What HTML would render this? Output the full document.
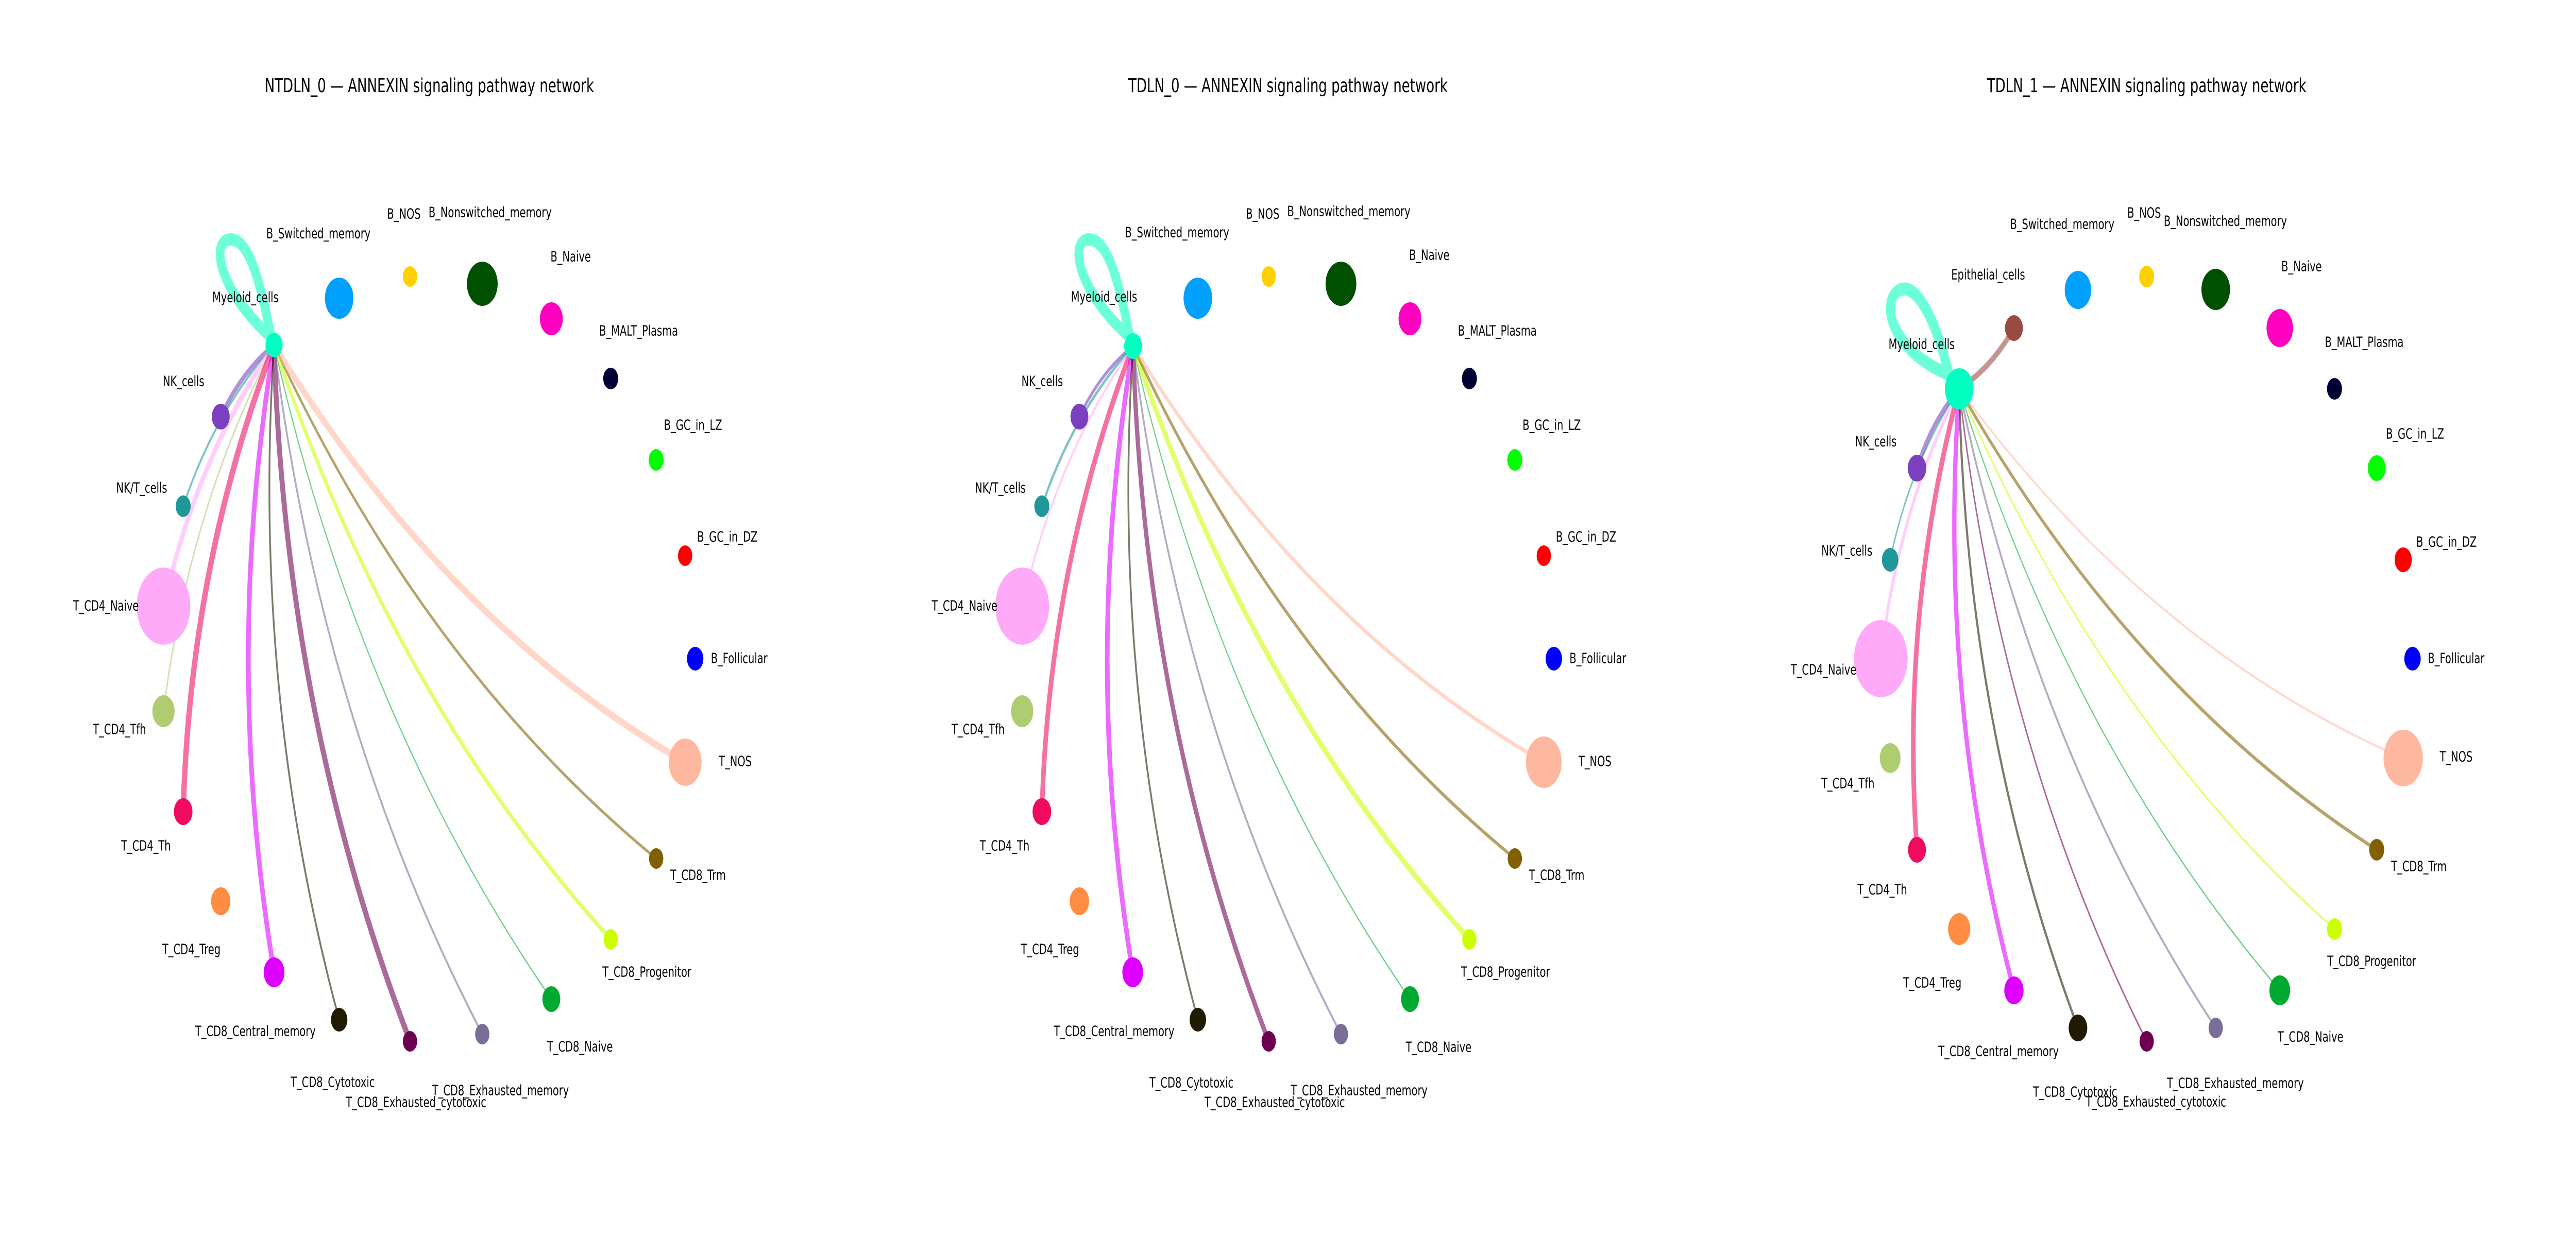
<!DOCTYPE html>
<html><head><meta charset="utf-8"><style>
html,body{margin:0;padding:0;background:#fff;width:100%;height:100%;overflow:hidden;}
svg{display:block;width:100vw;height:100vh;}
text{font-family:"DejaVu Sans","Liberation Sans",sans-serif;fill:#000;}
.t{font-size:37.5px;text-anchor:middle;}
.l{font-size:28px;text-anchor:middle;dominant-baseline:central;}
</style></head><body>
<svg id="s" viewBox="0 0 7200 2400" preserveAspectRatio="none" xmlns="http://www.w3.org/2000/svg">
<rect width="7200" height="2400" fill="#fff"/>
<g id="edges"></g>
<path d="M760 660 C730 560 700 460 640 465 C590 470 610 560 750 650" fill="none" stroke="#00FFC0" stroke-opacity="0.58" stroke-width="24"/>
<path d="M3160 660 C3130 560 3100 460 3040 465 C2990 470 3010 560 3150 650" fill="none" stroke="#00FFC0" stroke-opacity="0.58" stroke-width="24"/>
<path d="M5450 735 C5420 640 5360 540 5305 565 C5255 590 5290 680 5440 725" fill="none" stroke="#00FFC0" stroke-opacity="0.58" stroke-width="25"/>
<g id="nodes"></g>

<text class="t" x="1200" y="179">NTDLN_0 — ANNEXIN signaling pathway network</text>
<text class="t" x="3600" y="179">TDLN_0 — ANNEXIN signaling pathway network</text>
<text class="t" x="6000" y="179">TDLN_1 — ANNEXIN signaling pathway network</text>

<g>
<text class="l" x="890" y="453">B_Switched_memory</text>
<text class="l" x="1129" y="415">B_NOS</text>
<text class="l" x="1370" y="412">B_Nonswitched_memory</text>
<text class="l" x="1595" y="498">B_Naive</text>
<text class="l" x="686" y="577">Myeloid_cells</text>
<text class="l" x="1785" y="642">B_MALT_Plasma</text>
<text class="l" x="513" y="740">NK_cells</text>
<text class="l" x="1937" y="825">B_GC_in_LZ</text>
<text class="l" x="396" y="947">NK/T_cells</text>
<text class="l" x="2033" y="1042">B_GC_in_DZ</text>
<text class="l" x="296" y="1176">T_CD4_Naive</text>
<text class="l" x="2066" y="1278">B_Follicular</text>
<text class="l" x="334" y="1416">T_CD4_Tfh</text>
<text class="l" x="2055" y="1478">T_NOS</text>
<text class="l" x="408" y="1642">T_CD4_Th</text>
<text class="l" x="1951" y="1699">T_CD8_Trm</text>
<text class="l" x="535" y="1843">T_CD4_Treg</text>
<text class="l" x="1808" y="1887">T_CD8_Progenitor</text>
<text class="l" x="714" y="2002">T_CD8_Central_memory</text>
<text class="l" x="1621" y="2032">T_CD8_Naive</text>
<text class="l" x="930" y="2101">T_CD8_Cytotoxic</text>
<text class="l" x="1399" y="2117">T_CD8_Exhausted_memory</text>
<text class="l" x="1163" y="2140">T_CD8_Exhausted_cytotoxic</text>
</g>
<g transform="translate(2400,0)">
<text class="l" x="890" y="451">B_Switched_memory</text>
<text class="l" x="1129" y="415">B_NOS</text>
<text class="l" x="1370" y="410">B_Nonswitched_memory</text>
<text class="l" x="1595" y="495">B_Naive</text>
<text class="l" x="686" y="576">Myeloid_cells</text>
<text class="l" x="1785" y="642">B_MALT_Plasma</text>
<text class="l" x="513" y="740">NK_cells</text>
<text class="l" x="1937" y="825">B_GC_in_LZ</text>
<text class="l" x="396" y="947">NK/T_cells</text>
<text class="l" x="2033" y="1042">B_GC_in_DZ</text>
<text class="l" x="296" y="1176">T_CD4_Naive</text>
<text class="l" x="2066" y="1278">B_Follicular</text>
<text class="l" x="334" y="1416">T_CD4_Tfh</text>
<text class="l" x="2058" y="1478">T_NOS</text>
<text class="l" x="408" y="1642">T_CD4_Th</text>
<text class="l" x="1951" y="1699">T_CD8_Trm</text>
<text class="l" x="535" y="1843">T_CD4_Treg</text>
<text class="l" x="1808" y="1887">T_CD8_Progenitor</text>
<text class="l" x="714" y="2002">T_CD8_Central_memory</text>
<text class="l" x="1621" y="2033">T_CD8_Naive</text>
<text class="l" x="930" y="2102">T_CD8_Cytotoxic</text>
<text class="l" x="1399" y="2117">T_CD8_Exhausted_memory</text>
<text class="l" x="1163" y="2140">T_CD8_Exhausted_cytotoxic</text>
</g>
<g>
<text class="l" x="5764" y="435">B_Switched_memory</text>
<text class="l" x="5993" y="413">B_NOS</text>
<text class="l" x="6220" y="429">B_Nonswitched_memory</text>
<text class="l" x="5557" y="533">Epithelial_cells</text>
<text class="l" x="6433" y="517">B_Naive</text>
<text class="l" x="5371" y="668">Myeloid_cells</text>
<text class="l" x="6608" y="664">B_MALT_Plasma</text>
<text class="l" x="6750" y="842">B_GC_in_LZ</text>
<text class="l" x="5243" y="857">NK_cells</text>
<text class="l" x="6838" y="1052">B_GC_in_DZ</text>
<text class="l" x="5162" y="1069">NK/T_cells</text>
<text class="l" x="6865" y="1278">B_Follicular</text>
<text class="l" x="5097" y="1300">T_CD4_Naive</text>
<text class="l" x="6865" y="1469">T_NOS</text>
<text class="l" x="5165" y="1521">T_CD4_Tfh</text>
<text class="l" x="6761" y="1682">T_CD8_Trm</text>
<text class="l" x="5261" y="1727">T_CD4_Th</text>
<text class="l" x="6629" y="1866">T_CD8_Progenitor</text>
<text class="l" x="5401" y="1908">T_CD4_Treg</text>
<text class="l" x="6458" y="2013">T_CD8_Naive</text>
<text class="l" x="5586" y="2041">T_CD8_Central_memory</text>
<text class="l" x="6248" y="2103">T_CD8_Exhausted_memory</text>
<text class="l" x="5800" y="2120">T_CD8_Cytotoxic</text>
<text class="l" x="6026" y="2139">T_CD8_Exhausted_cytotoxic</text>
</g>
</svg>
<script>
(function(){
var NS="http://www.w3.org/2000/svg";
var C={My:"#00FFC0",Ep:"#9A4A40",BS:"#00A0FF",BN:"#FFD000",BNs:"#005000",BNa:"#FF00C0",BM:"#000033",LZ:"#00FF00",DZ:"#FF0000",BF:"#0000FF",TN:"#FFB8A0",Trm:"#806000",Pr:"#CCFF00",CN:"#00AA30",EM:"#7A6E98",EC:"#6E0050",Cy:"#201A00",CM:"#DD00FF",Tr:"#FF8C40",Th:"#F00A60",Tf:"#B0CC70",CNv:"#FFAAF8",NKT:"#20989A",NK:"#7B40C0"};
var P1={My:[766,670,24],BS:[948,579,40],BN:[1146,537,20],BNs:[1348,551,43],BNa:[1541,619,32],BM:[1707,735,21],LZ:[1834,893,21],DZ:[1915,1079,20],BF:[1943,1279,23],TN:[1915,1480,46],Trm:[1834,1667,20],Pr:[1707,1824,20],CN:[1541,1940,25],EM:[1348,2008,20],EC:[1146,2022,20],Cy:[948,1980,23],CM:[766,1888,29],Tr:[617,1750,27],Th:[512,1576,26],Tf:[457,1381,31],CNv:[457,1177,75],NKT:[512,983,21],NK:[617,809,25]};
var P2={};for(var k in P1){P2[k]=[P1[k][0]+2400,P1[k][1],P1[k][2]];}
P2.My=[3167,672,25];P2.TN=[4315,1480,50];
var P3={My:[5476,755,40],Ep:[5629,637,25],BS:[5808,563,37],BN:[6000,537,21],BNs:[6193,562,40],BNa:[6372,637,37],BM:[6525,755,21],LZ:[6643,909,25],DZ:[6717,1087,24],BF:[6743,1279,23],TN:[6717,1472,55],Trm:[6643,1650,21],Pr:[6525,1804,21],CN:[6372,1923,29],EM:[6193,1996,20],EC:[6000,2022,20],Cy:[5808,1996,26],CM:[5629,1923,27],Tr:[5476,1804,31],Th:[5358,1650,25],Tf:[5283,1472,29],CNv:[5257,1279,75],NKT:[5283,1087,23],NK:[5358,909,26]};
var E1={NK:10,NKT:5,CNv:12,Tf:4,Th:15,CM:13,Cy:5,EC:14,EM:5,CN:3,Pr:9,Trm:6,TN:14};
var E2={NK:7,NKT:6,CNv:5,Th:13,CM:13,Cy:5,EC:12,EM:5,CN:3,Pr:12,Trm:7,TN:8};
var E3={Ep:12,NK:10,NKT:4,CNv:8,Th:13,CM:12,Cy:6,EC:4,EM:5,CN:3,Pr:4,Trm:7,TN:4};
var eg=document.getElementById("edges"),ng=document.getElementById("nodes");
function draw(P,E){
 var s=P.My;
 for(var k in E){var t=P[k];var dx=t[0]-s[0],dy=t[1]-s[1];
  var mx=(s[0]+t[0])/2,my=(s[1]+t[1])/2,r=0.118;
  var cx=mx-r*dy,cy=my+r*dx;
  var p=document.createElementNS(NS,"path");
  p.setAttribute("d","M"+s[0]+" "+s[1]+" Q"+cx+" "+cy+" "+t[0]+" "+t[1]);
  p.setAttribute("fill","none");p.setAttribute("stroke",C[k]);
  p.setAttribute("stroke-opacity","0.58");p.setAttribute("stroke-width",E[k]);
  eg.appendChild(p);}
 for(var k in P){var n=P[k];var c=document.createElementNS(NS,"circle");
  c.setAttribute("cx",n[0]);c.setAttribute("cy",n[1]);c.setAttribute("r",n[2]);c.setAttribute("fill",C[k]);ng.appendChild(c);}
}
draw(P1,E1);draw(P2,E2);draw(P3,E3);
})();
</script>
</body></html>
